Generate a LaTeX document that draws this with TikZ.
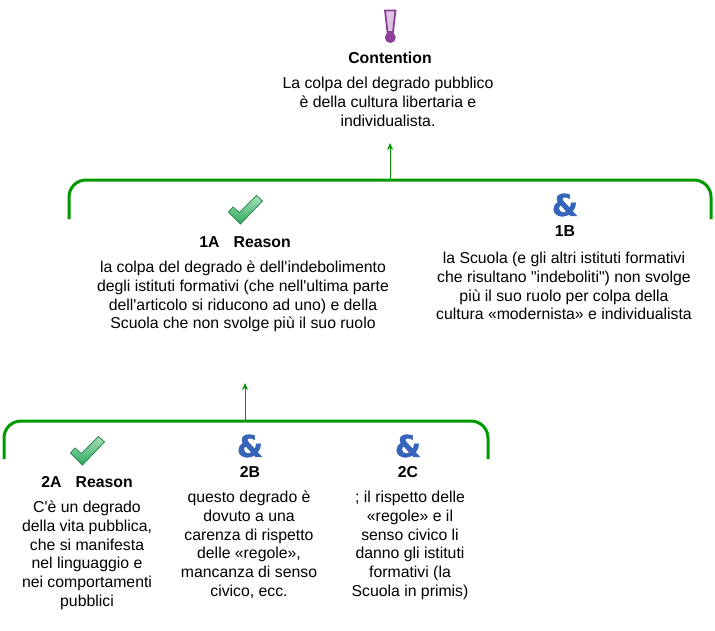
\documentclass[tikz,border=0pt]{standalone}
\usepackage{fontspec}
\setmainfont{Liberation Sans}
\newfontfamily\ampfont[FakeBold=1.5]{DejaVu Sans Bold}
\usetikzlibrary{positioning}
\usetikzlibrary{arrows.meta}
\definecolor{linkgreen}{HTML}{009900}
\definecolor{ampblue}{HTML}{3564BA}
\definecolor{bangpurple}{HTML}{8B3F9B}
\definecolor{checkline}{HTML}{2A8A50}
\definecolor{checktop}{HTML}{A8E0B8}
\definecolor{checkbot}{HTML}{2FA860}
\begin{document}
\begin{tikzpicture}[x=1pt,y=-1pt,>={Stealth[length=7pt,width=6pt]},node distance=6pt,
	bracket/.style={draw=linkgreen,line width=3pt,rounded corners=17pt},
	link/.style={->,draw=linkgreen,line width=0.8pt},
	head node/.style={font=\fontsize{15.8}{18}\selectfont\bfseries,inner sep=0pt,text=black},
	body node/.style={font=\fontsize{15.8}{18.7}\selectfont,align=center,inner sep=0pt,text=black},
	amp node/.style={font=\ampfont\fontsize{30}{30}\selectfont,text=ampblue,inner sep=0pt},
	checkicon/.pic={
		\draw[draw=checkline,line width=0.8pt,top color=checktop,bottom color=checkbot]
		(-16.5,2) -- (-12,-3) -- (-5.5,2.5) -- (11.5,-14.5) -- (17.5,-9) -- (-4.5,14) -- cycle;
	},
	bangicon/.pic={
		\draw[draw=bangpurple,line width=1.8pt,fill=bangpurple!30] (-5,-13.5) -- (5.5,-13.5) -- (3,8) -- (-2.5,8) -- cycle;
		\fill[bangpurple] (0.3,13.5) circle (5.5);
	}]
	\path[use as bounding box] (0,0) rectangle (715,630);

	% contention
	\pic at (390,24) {bangicon};
	\node[head node] (c0) at (390,58) {Contention};
	\node[body node,anchor=north] (c0t) at (388,77) {La colpa del degrado pubblico\\ è della cultura libertaria e\\ individualista.};

	% first row
	\coordinate (b1l) at (69,219);
	\coordinate (b1r) at (711,219);
	\coordinate (b1m) at (390,180);
	\coordinate (b1t) at (390,143);
	\draw[bracket] (b1l) |- (b1m) -| (b1r);
	\draw[link] (b1m) -- (b1t);

	\pic at (245,210) {checkicon};
	\node[head node] (r1a) at (245,242) {1A\hspace{0.9em}Reason};
	\node[body node,anchor=north] (r1at) at (243,261) {la colpa del degrado è dell\textquotesingle indebolimento\\ degli istituti formativi (che nell\textquotesingle ultima parte\\ dell\textquotesingle articolo si riducono ad uno) e della\\ Scuola che non svolge più il suo ruolo};

	\node[amp node] (a1b) at (565,205) {\&};
	\node[head node] (r1b) at (565,231) {1B};
	\node[body node,anchor=north] (r1bt) at (564,252) {la Scuola (e gli altri istituti formativi\\ che risultano \textquotedbl indeboliti\textquotedbl) non svolge\\ più il suo ruolo per colpa della\\ cultura «modernista» e individualista};

	% second row
	\coordinate (b2l) at (4,459);
	\coordinate (b2r) at (488,459);
	\coordinate (b2m) at (245,421);
	\coordinate (b2t) at (245,383);
	\draw[bracket] (b2l) |- (b2m) -| (b2r);
	\draw[link] (b2m) -- (b2t);

	\pic at (87,451) {checkicon};
	\node[head node] (r2a) at (87,482) {2A\hspace{0.9em}Reason};
	\node[body node,anchor=north] (r2at) at (87,501) {C\textquotesingle è un degrado\\ della vita pubblica,\\ che si manifesta\\ nel linguaggio e\\ nei comportamenti\\ pubblici};

	\node[amp node] (a2b) at (250,446) {\&};
	\node[head node] (r2b) at (250,472) {2B};
	\node[body node,anchor=north] (r2bt) at (249,491) {questo degrado è\\ dovuto a una\\ carenza di rispetto\\ delle «regole»,\\ mancanza di senso\\ civico, ecc.};

	\node[amp node] (a2c) at (408,446) {\&};
	\node[head node] (r2c) at (408,472) {2C};
	\node[body node,anchor=north] (r2ct) at (410,491) {; il rispetto delle\\ «regole» e il\\ senso civico li\\ danno gli istituti\\ formativi (la\\ Scuola in primis)};
\end{tikzpicture}
\end{document}
